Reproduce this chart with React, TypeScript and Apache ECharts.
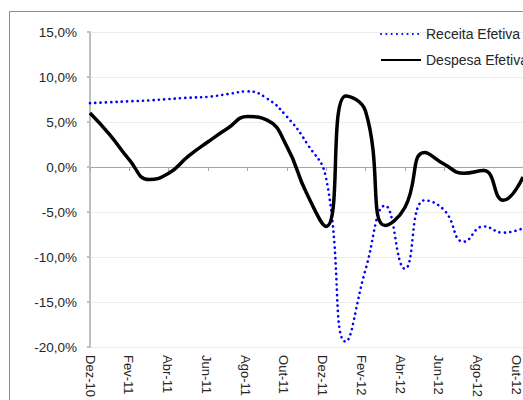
import React, { useEffect, useRef } from "react";
import * as echarts from "echarts";

const months = [
  "Dez-10", "Jan-11", "Fev-11", "Mar-11", "Abr-11", "Mai-11", "Jun-11", "Jul-11",
  "Ago-11", "Set-11", "Out-11", "Nov-11", "Dez-11", "Jan-12", "Fev-12", "Mar-12",
  "Abr-12", "Mai-12", "Jun-12", "Jul-12", "Ago-12", "Set-12", "Out-12",
];

const receitaEfetiva = [
  7.1, 7.2, 7.3, 7.4, 7.55, 7.7, 7.8, 8.1, 8.4, 7.6, 5.6, 2.7,
  -1.3, -19.4, -11.4, -4.3, -11.3, -3.7, -4.8, -8.3, -6.6, -7.3, -6.8,
];

const despesaEfetiva = [
  6.0, 3.6, 0.8, -1.4, -0.7, 1.2, 2.8, 4.3, 5.6, 5.2, 2.3, -2.9,
  -6.6, 7.9, 6.2, -6.5, -4.5, 1.6, 0.3, -0.7, -0.4, -3.7, -1.1,
];

const seriesNames = ["Receita Efetiva", "Despesa Efetiva"];
const yMin = -20;
const yMax = 15;
const yStep = 5;

const FONT = "Liberation Sans";
const fmt = (v: number) => v.toFixed(1).replace(".", ",") + "%";

export default function App() {
  const ref = useRef<HTMLDivElement>(null);
  useEffect(() => {
    if (!ref.current) return;
    const chart = echarts.init(ref.current, null, { renderer: "svg" });
    const gridRect = { left: 90, right: 0, top: 32, bottom: 53 };
    chart.setOption({
      animation: false,
      backgroundColor: "#ffffff",
      textStyle: { fontFamily: FONT },
      graphic: [
        {
          type: "rect",
          shape: { x: 9.5, y: 11.5, width: 600, height: 500 },
          style: { fill: "none", stroke: "#8c8c8c", lineWidth: 1 },
          silent: true,
          z: -10,
        },
      ],
      legend: {
        orient: "vertical",
        left: 375,
        top: 22,
        itemWidth: 40,
        itemHeight: 14,
        itemGap: 12,
        itemStyle: { opacity: 0 },
        textStyle: { fontFamily: FONT, fontSize: 14, color: "#262626" },
        data: seriesNames,
      },
      grid: [
        { ...gridRect, containLabel: false },
        { ...gridRect, containLabel: false },
      ],
      xAxis: [
        {
          type: "category",
          gridIndex: 0,
          data: months,
          boundaryGap: false,
          axisLine: { show: true, onZero: true, lineStyle: { color: "#a6a6a6", width: 1 } },
          axisTick: { show: true, interval: 1, length: 4, lineStyle: { color: "#a6a6a6" } },
          axisLabel: { show: false },
          splitLine: { show: false },
        },
        {
          type: "category",
          gridIndex: 1,
          data: months,
          boundaryGap: false,
          axisLine: { show: false, onZero: false },
          axisTick: { show: false },
          axisLabel: {
            show: true,
            interval: 1,
            rotate: -90,
            margin: 10,
            fontFamily: FONT,
            fontSize: 13,
            color: "#262626",
          },
          splitLine: { show: false },
        },
      ],
      yAxis: [
        {
          type: "value",
          gridIndex: 0,
          min: yMin,
          max: yMax,
          interval: yStep,
          axisLine: { show: true, lineStyle: { color: "#bfbfbf", width: 2 } },
          axisTick: { show: true, length: 3, lineStyle: { color: "#bfbfbf", width: 2 } },
          axisLabel: {
            formatter: fmt,
            margin: 13,
            fontFamily: FONT,
            fontSize: 13.5,
            color: "#262626",
          },
          splitLine: { show: true, lineStyle: { color: "#ececec", width: 1 } },
        },
        {
          type: "value",
          gridIndex: 1,
          min: yMin,
          max: yMax,
          interval: yStep,
          show: false,
        },
      ],
      series: [
        {
          name: seriesNames[0],
          type: "line",
          xAxisIndex: 0,
          yAxisIndex: 0,
          data: receitaEfetiva,
          smooth: 0.5,
          symbol: "none",
          lineStyle: { color: "#0000ff", width: 2.6, type: [0.1, 5.2], cap: "round" },
          itemStyle: { color: "#0000ff" },
          z: 2,
        },
        {
          name: seriesNames[1],
          type: "line",
          xAxisIndex: 0,
          yAxisIndex: 0,
          data: despesaEfetiva,
          smooth: 0.5,
          symbol: "none",
          lineStyle: { color: "#000000", width: 3.5, type: "solid" },
          itemStyle: { color: "#000000" },
          z: 3,
        },
      ],
    });
    return () => chart.dispose();
  }, []);
  return <div ref={ref} style={{ width: 523, height: 400, position: "absolute", left: 0, top: 0 }} />;
}
